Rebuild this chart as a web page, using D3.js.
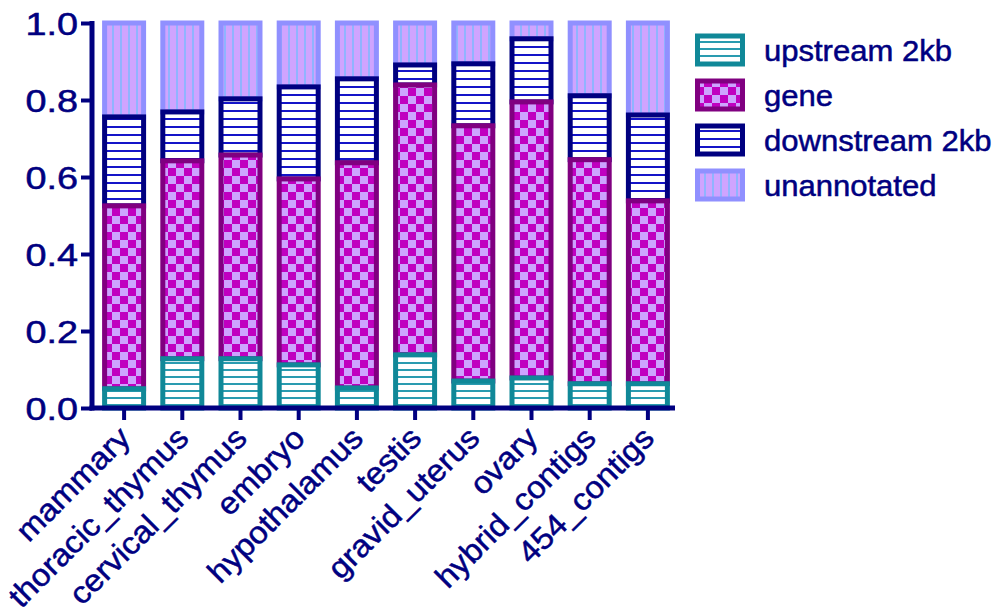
<!DOCTYPE html>
<html>
<head>
<meta charset="utf-8">
<script src="https://cdn.jsdelivr.net/npm/d3@7"></script>
<style>
  body { margin: 0; background: #fff; }
  text { font-family: "Liberation Sans", Arial, sans-serif; fill: #000080; stroke: #000080; stroke-width: 0.5px; }
</style>
</head>
<body>
<div id="chart"></div>
<script>
// chart data (fractions of reads per region)
var tissues = ["mammary", "thoracic_thymus", "cervical_thymus", "embryo", "hypothalamus",
  "testis", "gravid_uterus", "ovary", "hybrid_contigs", "454_contigs"];
var upstream = [0.050, 0.128, 0.128, 0.112, 0.052, 0.138, 0.070, 0.078, 0.063, 0.063];
var gene = [0.475, 0.514, 0.529, 0.483, 0.585, 0.701, 0.663, 0.717, 0.582, 0.475];
var downstream = [0.231, 0.127, 0.146, 0.239, 0.218, 0.052, 0.161, 0.164, 0.166, 0.223];
var unannotated = [0.244, 0.231, 0.197, 0.166, 0.145, 0.109, 0.106, 0.041, 0.189, 0.239];
var seriesNames = ["upstream 2kb", "gene", "downstream 2kb", "unannotated"];
var yTicks = [0, 0.2, 0.4, 0.6, 0.8, 1.0];

var svgWidth = 999;
var svgHeight = 614;

var svg = d3.select("#chart")
  .append("svg")
  .attr("width", svgWidth)
  .attr("height", svgHeight);

// fill patterns
var defs = svg.append("defs");

var pUp = defs.append("pattern").attr("id", "p-up")
  .attr("patternUnits", "userSpaceOnUse").attr("width", 8).attr("height", 7);
pUp.append("rect").attr("width", 8).attr("height", 7).attr("fill", "#fff");
pUp.append("rect").attr("y", 5).attr("width", 8).attr("height", 2).attr("fill", "#2a9bb0");

var pGene = defs.append("pattern").attr("id", "p-gene")
  .attr("patternUnits", "userSpaceOnUse").attr("width", 16).attr("height", 16);
pGene.append("rect").attr("width", 16).attr("height", 16).attr("fill", "#cda3ff");
pGene.append("rect").attr("width", 8).attr("height", 8).attr("fill", "#c000c0");
pGene.append("rect").attr("x", 8).attr("y", 8).attr("width", 8).attr("height", 8).attr("fill", "#c000c0");

var pDown = defs.append("pattern").attr("id", "p-down")
  .attr("patternUnits", "userSpaceOnUse").attr("width", 8).attr("height", 8);
pDown.append("rect").attr("width", 8).attr("height", 8).attr("fill", "#fff");
pDown.append("rect").attr("y", 6).attr("width", 8).attr("height", 2).attr("fill", "#1414c8");

var pUn = defs.append("pattern").attr("id", "p-un")
  .attr("patternUnits", "userSpaceOnUse").attr("width", 8).attr("height", 8);
pUn.append("rect").attr("width", 8).attr("height", 8).attr("fill", "#cfa4ff");
pUn.append("rect").attr("x", 0).attr("width", 2).attr("height", 8).attr("fill", "#90b4ff");

var fills = ["url(#p-up)", "url(#p-gene)", "url(#p-down)", "url(#p-un)"];
var strokes = ["#108898", "#800080", "#000080", "#9090ff"];

// table for the stack
var table = tissues.map(function(t, i) {
  return {
    tissue: t,
    "upstream 2kb": upstream[i],
    "gene": gene[i],
    "downstream 2kb": downstream[i],
    "unannotated": unannotated[i]
  };
});
var stacked = d3.stack().keys(seriesNames)(table);

// scales
var xScale = d3.scaleBand()
  .domain(tissues)
  .range([95, 677])
  .paddingInner(0.33)
  .paddingOuter(0.165);

var yScale = d3.scaleLinear()
  .domain([0, 1])
  .range([408, 23]);

// bars, top series first so lower segments overlap the shared edge
var layers = svg.selectAll("g.layer")
  .data(stacked.slice().reverse())
  .enter()
  .append("g")
  .attr("class", "layer")
  .attr("fill", d => fills[d.index])
  .attr("stroke", d => strokes[d.index])
  .attr("stroke-width", 5);

layers.selectAll("rect")
  .data(d => d)
  .enter()
  .append("rect")
  .attr("x", d => xScale(d.data.tissue))
  .attr("y", d => yScale(d[1]))
  .attr("width", xScale.bandwidth())
  .attr("height", d => yScale(d[0]) - yScale(d[1]));

// y axis
var leftAxis = d3.axisLeft(yScale)
  .tickValues(yTicks)
  .tickFormat(d3.format(".1f"))
  .tickSize(11)
  .tickSizeOuter(0)
  .tickPadding(0);

var yAxis = svg.append("g")
  .attr("transform", "translate(92,0)")
  .call(leftAxis);
yAxis.select(".domain").attr("stroke", "#000080").attr("stroke-width", 5)
  .attr("d", "M0," + (yScale(1) - 2) + "V" + (yScale(0) + 2.5));
yAxis.selectAll(".tick line").attr("stroke", "#000080").attr("stroke-width", 4);
yAxis.selectAll(".tick text")
  .attr("fill", "#000080")
  .style("font-size", "31px")
  .attr("x", -11.5)
  .attr("dy", "0.36em")
  .attr("transform", "scale(1.22,1)");

// x axis
var bottomAxis = d3.axisBottom(xScale)
  .tickSize(12)
  .tickSizeOuter(0)
  .tickFormat("");

var xAxis = svg.append("g")
  .attr("transform", "translate(0,408)")
  .call(bottomAxis);
xAxis.select(".domain").attr("stroke", "#000080").attr("stroke-width", 5)
  .attr("d", "M89.5,0H675");
xAxis.selectAll(".tick line").attr("stroke", "#000080").attr("stroke-width", 4);

// rotated category labels
svg.append("g")
  .selectAll("text")
  .data(tissues)
  .enter()
  .append("text")
  .attr("transform", d => "translate(" + (xScale(d) + xScale.bandwidth() / 2 + 8) + ",440) rotate(-45) scale(1.06,1)")
  .attr("text-anchor", "end")
  .style("font-size", "31px")
  .text(d => d);

// legend
var legend = svg.append("g")
  .selectAll("g")
  .data(seriesNames)
  .enter()
  .append("g")
  .attr("transform", (d, i) => "translate(0," + (50 + i * 45) + ")");

legend.append("rect")
  .attr("x", 697.5)
  .attr("y", -14)
  .attr("width", 45)
  .attr("height", 28)
  .attr("fill", (d, i) => fills[i])
  .attr("stroke", (d, i) => strokes[i])
  .attr("stroke-width", 5);

legend.append("text")
  .attr("transform", "translate(764,10.5) scale(1.07,1)")
  .style("font-size", "29px")
  .text(d => d);
</script>
</body>
</html>
